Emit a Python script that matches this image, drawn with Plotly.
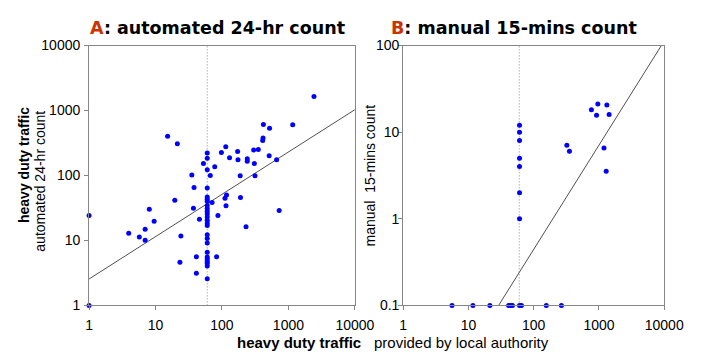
import plotly.graph_objects as go

W, H = 719, 358

# ---------------- data ----------------
tick_vals_x = [1, 10, 100, 1000, 10000]
tick_text_x = ["1", "10", "100", "1000", "10000"]
tick_vals_ya = [1, 10, 100, 1000, 10000]
tick_text_ya = ["1", "10", "100", "1000", "10000"]
tick_vals_yb = [0.1, 1, 10, 100]
tick_text_yb = ["0.1", "1", "10", "100"]

# Panel A: local authority (x) vs automated 24-hr count (y)
a_x = [2424, 1160, 420, 520, 415, 410, 15.2, 21.3, 114, 172, 98, 60, 300, 352,
       60, 130, 174, 240, 240, 513, 664, 307, 52.6, 60, 77.8, 35.2, 66.7, 188,
       314, 38, 60, 60, 60, 117, 111, 190, 60, 71, 19.5, 115, 8.06, 37.2, 60,
       60, 60, 60, 60, 60, 60, 60, 45.8, 86.9, 726, 9.53, 1.0, 230, 3.95, 6.98,
       5.71, 6.98, 24.1, 60, 60, 60, 60, 60, 60, 60, 60, 60, 41.2, 83, 23.3,
       41.2, 60, 1.0]
a_y = [1640, 602, 608, 531, 378, 345, 401, 309, 276, 233, 225, 222, 246, 250,
       184, 188, 174, 181, 166, 201, 174, 153, 153, 122, 136, 102, 100, 98.6,
       98.6, 65.5, 64, 46.7, 43.2, 50, 44.7, 45.7, 40.1, 38.2, 41.5, 34.2, 30.1,
       31.2, 34.5, 30.9, 28.2, 25.5, 23.0, 20.4, 18.6, 16.9, 21.1, 24.1, 28.9,
       19.7, 24.1, 16.2, 12.9, 14.8, 11.3, 10.1, 11.7, 12.2, 10.7, 9.12, 6.58,
       5.55, 5.18, 4.8, 4.44, 4.05, 5.62, 5.62, 4.63, 3.12, 2.58, 1.0]

# Panel B: local authority (x) vs manual 15-min count (y)
b_x = [961, 1322, 766, 918, 1431, 322, 353, 1194, 1291,
       60.6, 60.6, 60.6, 60.6, 60.6, 60.6, 60.6,
       5.6, 11.7, 21.3, 41.2, 44.1, 47.2, 60.6, 64.9, 156, 266]
b_y = [21.2, 20.6, 18.2, 15.7, 16.0, 7.07, 6.02, 6.55, 3.53,
       12, 10, 8, 5, 4, 2, 1,
       0.1, 0.1, 0.1, 0.1, 0.1, 0.1, 0.1, 0.1, 0.1, 0.1]

# fitted lines (end points)
fit_a_x = [1, 10000]
fit_a_y = [2.55, 1030]
fit_b_x = [29, 9040]
fit_b_y = [0.1, 100]

ref_x = 60  # dotted reference line

# ---------------- layout helpers ----------------
def px_x(p):
    return p / W

def px_y(p):
    return (H - p) / H

AX_L = (88, 363)
AX_R = (413, 683)
AX_T, AX_B = 39.3, 311.3

BLUE = "#0000ff"
GRAY = "#868686"
FONT = "Liberation Sans, Arial, sans-serif"

fig = go.Figure()

fig.add_trace(go.Scatter(x=fit_a_x, y=fit_a_y, mode="lines",
                         line=dict(color="#505050", width=1),
                         xaxis="x", yaxis="y", hoverinfo="skip"))
fig.add_trace(go.Scatter(x=a_x, y=a_y, mode="markers",
                         marker=dict(color=BLUE, size=5),
                         xaxis="x", yaxis="y", cliponaxis=False))
fig.add_trace(go.Scatter(x=fit_b_x, y=fit_b_y, mode="lines",
                         line=dict(color="#505050", width=1),
                         xaxis="x2", yaxis="y2", hoverinfo="skip"))
fig.add_trace(go.Scatter(x=b_x, y=b_y, mode="markers",
                         marker=dict(color=BLUE, size=5),
                         xaxis="x2", yaxis="y2", cliponaxis=False))

axis_common = dict(type="log", showgrid=False, zeroline=False,
                   showline=True, linecolor=GRAY, linewidth=1, mirror=True,
                   ticks="outside", ticklen=4, tickcolor=GRAY,
                   tickfont=dict(family=FONT, size=14, color="#000000"))

fig.update_layout(
    width=W, height=H,
    margin=dict(l=0, r=0, t=0, b=0),
    paper_bgcolor="white", plot_bgcolor="white",
    showlegend=False,
    font=dict(family=FONT, size=14, color="#000000"),
    xaxis=dict(domain=[px_x(AX_L[0]), px_x(AX_L[1])], anchor="y",
               range=[0, 4], tickvals=tick_vals_x, ticktext=tick_text_x,
               ticklabelstandoff=3, **axis_common),
    yaxis=dict(domain=[px_y(AX_B), px_y(AX_T)], anchor="x",
               range=[0, 4], tickvals=tick_vals_ya, ticktext=tick_text_ya,
               ticklabelstandoff=1, **axis_common),
    xaxis2=dict(domain=[px_x(AX_R[0]), px_x(AX_R[1])], anchor="y2",
                range=[0, 4], tickvals=tick_vals_x, ticktext=tick_text_x,
                ticklabelstandoff=3, **axis_common),
    yaxis2=dict(domain=[px_y(AX_B), px_y(AX_T)], anchor="x2",
                range=[-1, 2], tickvals=tick_vals_yb, ticktext=tick_text_yb,
                ticklabelstandoff=-4, **axis_common),
)

for xr, yr in (("x", "y domain"), ("x2", "y2 domain")):
    fig.add_shape(type="line", xref=xr, yref=yr, x0=ref_x, x1=ref_x, y0=0, y1=1,
                  line=dict(color="#8a8a8a", width=1, dash="1px,2px"), layer="below")

TITLE_FONT = "DejaVu Sans, Verdana, sans-serif"
fig.add_annotation(x=px_x(221), y=px_y(21), xref="paper", yref="paper",
                   text="<span style='color:#cc3300'>A</span>: automated 24-hr count",
                   showarrow=False, xanchor="center", yanchor="middle",
                   font=dict(family=TITLE_FONT, size=17.5, color="#000000", weight="bold"))
fig.add_annotation(x=px_x(528), y=px_y(21), xref="paper", yref="paper",
                   text="<span style='color:#cc3300'>B</span>: manual 15-mins count",
                   showarrow=False, xanchor="center", yanchor="middle",
                   font=dict(family=TITLE_FONT, size=17.5, color="#000000", weight="bold"))

# y titles
fig.add_annotation(x=px_x(20), y=px_y(164), xref="paper", yref="paper",
                   text="<b>heavy duty traffic</b>", textangle=-90, showarrow=False,
                   xanchor="center", yanchor="middle",
                   font=dict(family=FONT, size=14, color="#000000"))
fig.add_annotation(x=px_x(37), y=px_y(181), xref="paper", yref="paper",
                   text="automated 24-hr count", textangle=-90, showarrow=False,
                   xanchor="center", yanchor="middle",
                   font=dict(family=FONT, size=14, color="#000000"))
fig.add_annotation(x=px_x(379), y=px_y(175), xref="paper", yref="paper",
                   text="manual  15-mins count", textangle=-90, showarrow=False,
                   xanchor="center", yanchor="middle",
                   font=dict(family=FONT, size=14, color="#000000"))

# x title
fig.add_annotation(x=px_x(371), y=px_y(350), xref="paper", yref="paper",
                   text="<b>heavy duty traffic</b>", showarrow=False,
                   xanchor="right", yanchor="middle",
                   font=dict(family=FONT, size=15, color="#000000"))
fig.add_annotation(x=px_x(381), y=px_y(350), xref="paper", yref="paper",
                   text="provided by local authority", showarrow=False,
                   xanchor="left", yanchor="middle",
                   font=dict(family=FONT, size=15, color="#000000"))

fig.write_html("out.html")
